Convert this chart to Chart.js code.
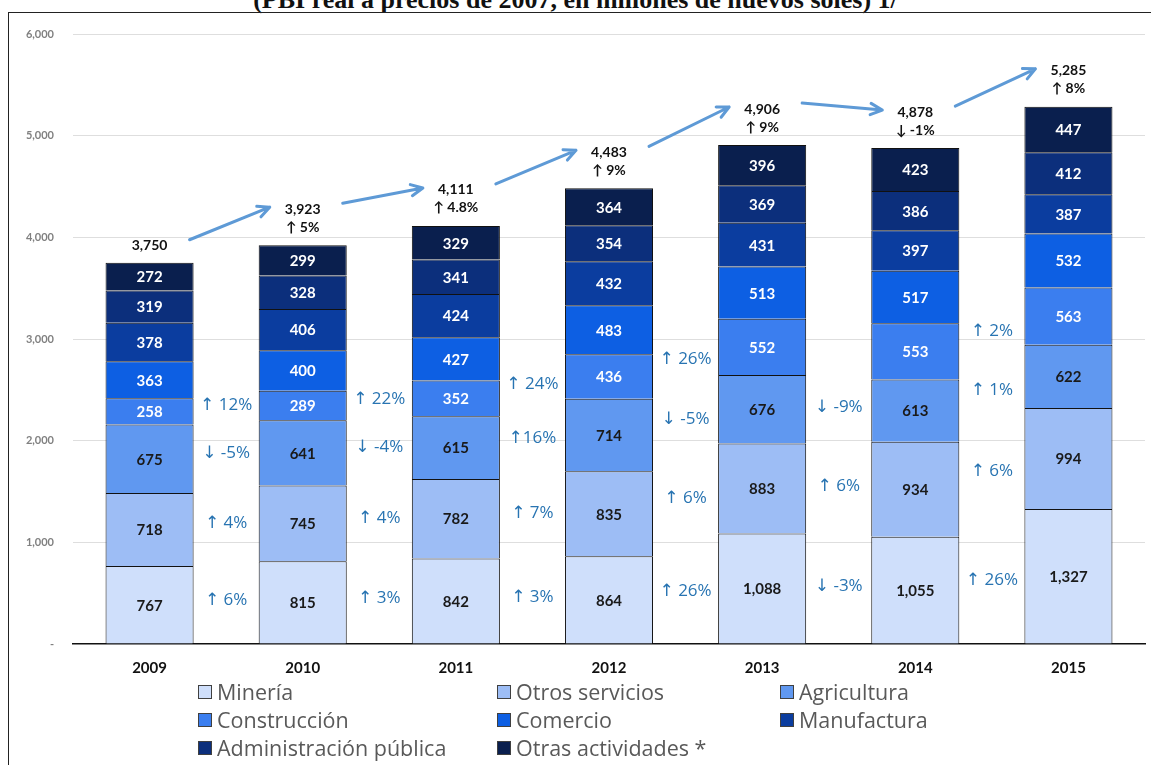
<!DOCTYPE html>
<html lang="es">
<head>
  <meta charset="UTF-8">
  <title>PBI por sectores 2009-2015</title>
  <style>
    body { margin: 0; padding: 0; background: #fff; width: 1151px; height: 765px; overflow: hidden; position: relative; font-family: Lato, "Open Sans", sans-serif; }
    .frame { position: absolute; left: 8px; top: 12px; right: -4px; bottom: -4px; border-left: 1.5px solid #222; border-top: 1.5px solid #222; }
    .title { position: absolute; left: 0; top: -13px; width: 1151px; text-align: center; font: bold 26px/26px "Liberation Serif", "Times New Roman", serif; color: #111; white-space: nowrap; }
    #chartCanvas { position: absolute; left: 0; top: 0; }
    .legend { position: absolute; top: 678px; left: 198px; }
    .legend .item { position: absolute; height: 28px; line-height: 28px; font-family: "Open Sans", sans-serif; font-size: 21.5px; color: #595959; white-space: nowrap; display: flex; align-items: center; }
    .legend .box { width: 14px; height: 14px; border: 1px solid #404040; margin-right: 5px; box-sizing: border-box; }
  </style>
  <script src="https://cdn.jsdelivr.net/npm/chart.js"></script>
</head>
<body>
  <div class="title">(PBI real a precios de 2007, en millones de nuevos soles) 1/</div>
  <div class="frame"></div>
  <canvas id="chartCanvas" width="1151" height="765"></canvas>
  <div class="legend" id="legend"></div>

  <script>
    // years on the x axis
    const years = ['2009', '2010', '2011', '2012', '2013', '2014', '2015'];

    // sector values, stacked bottom to top
    const mineria          = [767, 815, 842, 864, 1088, 1055, 1327];
    const otrosServicios   = [718, 745, 782, 835, 883, 934, 994];
    const agricultura      = [675, 641, 615, 714, 676, 613, 622];
    const construccion     = [258, 289, 352, 436, 552, 553, 563];
    const comercio         = [363, 400, 427, 483, 513, 517, 532];
    const manufactura      = [378, 406, 424, 432, 431, 397, 387];
    const adminPublica     = [319, 328, 341, 354, 369, 386, 412];
    const otrasActividades = [272, 299, 329, 364, 396, 423, 447];

    // totals and yearly change shown above each bar
    const totals      = [3750, 3923, 4111, 4483, 4906, 4878, 5285];
    const totalChange = ['', '↑ 5%', '↑ 4.8%', '↑ 9%', '↑ 9%', '↓ -1%', '↑ 8%'];

    // year-over-year growth for the lower four sectors (between bars)
    const growthMineria      = ['↑ 6%', '↑ 3%', '↑ 3%', '↑ 26%', '↓ -3%', '↑ 26%'];
    const growthOtros        = ['↑ 4%', '↑ 4%', '↑ 7%', '↑ 6%', '↑ 6%', '↑ 6%'];
    const growthAgricultura  = ['↓ -5%', '↓ -4%', '↑16%', '↓ -5%', '↓ -9%', '↑ 1%'];
    const growthConstruccion = ['↑ 12%', '↑ 22%', '↑ 24%', '↑ 26%', null, '↑ 2%'];

    const yTicks = [0, 1000, 2000, 3000, 4000, 5000, 6000];

    const sectors = [
      { label: 'Minería', data: mineria, color: '#cfdffb', growth: growthMineria },
      { label: 'Otros servicios', data: otrosServicios, color: '#9dbdf5', growth: growthOtros },
      { label: 'Agricultura', data: agricultura, color: '#6098f0', growth: growthAgricultura },
      { label: 'Construcción', data: construccion, color: '#3b7eef', growth: growthConstruccion },
      { label: 'Comercio', data: comercio, color: '#0d5fe3', growth: null },
      { label: 'Manufactura', data: manufactura, color: '#0b3d9f', growth: null },
      { label: 'Administración pública', data: adminPublica, color: '#0c2f7c', growth: null },
      { label: 'Otras actividades *', data: otrasActividades, color: '#0a1f4e', growth: null }
    ];

    const fmt = v => v.toLocaleString('en-US');

    // numbers inside segments, growth rates between bars, totals + arrows on top
    const labelsPlugin = {
      id: 'labels',
      afterDatasetsDraw(chart) {
        const ctx = chart.ctx;
        ctx.save();
        ctx.textAlign = 'center';
        ctx.textBaseline = 'middle';

        // segment values
        ctx.font = 'bold 15px Lato, sans-serif';
        chart.data.datasets.forEach((ds, di) => {
          const meta = chart.getDatasetMeta(di);
          meta.data.forEach((bar, i) => {
            ctx.fillStyle = di < 3 ? '#1a1a1a' : '#ffffff';
            ctx.fillText(fmt(ds.data[i]), bar.x, (bar.y + bar.base) / 2 + 1);
          });
        });

        // growth between consecutive bars
        ctx.font = '17px "Open Sans", "DejaVu Sans", sans-serif';
        ctx.fillStyle = '#2874b2';
        sectors.forEach((s, di) => {
          if (!s.growth) return;
          const bars = chart.getDatasetMeta(di).data;
          s.growth.forEach((txt, i) => {
            if (!txt) return;
            const a = bars[i], b = bars[i + 1];
            const x = (a.x + b.x) / 2;
            const y = ((a.y + a.base) / 2 + (b.y + b.base) / 2) / 2 - 3;
            ctx.fillText(txt, x, y);
          });
        });

        // totals above bars
        const pos = [];
        ctx.font = 'bold 14px Lato, "DejaVu Sans", sans-serif';
        ctx.fillStyle = '#111';
        const tops = chart.getDatasetMeta(sectors.length - 1).data;
        totals.forEach((t, i) => {
          const x = tops[i].x;
          const top = tops[i].y;
          const change = totalChange[i];
          let ny;
          if (change) {
            ny = top - 36;
            ctx.fillText(change, x, top - 18);
          } else {
            ny = top - 17;
          }
          ctx.fillText(fmt(t), x, ny);
          pos.push({ x, y: ny });
        });

        // arrows linking the totals
        ctx.strokeStyle = '#5e9ad6';
        ctx.lineWidth = 3;
        ctx.lineCap = 'round';
        ctx.lineJoin = 'round';
        for (let i = 0; i < pos.length - 1; i++) {
          const x1 = pos[i].x + 40, y1 = pos[i].y - 6;
          const x2 = pos[i + 1].x - 33, y2 = pos[i + 1].y - 2;
          const ang = Math.atan2(y2 - y1, x2 - x1);
          ctx.beginPath();
          ctx.moveTo(x1, y1);
          ctx.lineTo(x2, y2);
          ctx.moveTo(x2 - 13 * Math.cos(ang - 0.45), y2 - 13 * Math.sin(ang - 0.45));
          ctx.lineTo(x2, y2);
          ctx.lineTo(x2 - 13 * Math.cos(ang + 0.45), y2 - 13 * Math.sin(ang + 0.45));
          ctx.stroke();
        }
        ctx.restore();
      }
    };

    const ctx = document.getElementById('chartCanvas').getContext('2d');
    new Chart(ctx, {
      type: 'bar',
      data: {
        labels: years,
        datasets: sectors.map(s => ({
          label: s.label,
          data: s.data,
          backgroundColor: s.color,
          borderColor: '#111',
          borderWidth: 1,
          categoryPercentage: 1,
          barPercentage: 0.575
        }))
      },
      options: {
        responsive: false,
        animation: false,
        devicePixelRatio: 1,
        layout: { padding: { top: 34, right: 6, bottom: 81, left: 0 } },
        plugins: { legend: { display: false }, tooltip: { enabled: false } },
        scales: {
          x: {
            stacked: true,
            grid: { display: false, drawTicks: false },
            border: { color: '#111', width: 1.5 },
            ticks: { color: '#111', padding: 15, font: { family: 'Lato', size: 15, weight: 'bold' } },
            afterFit(scale) { scale.height = 40; }
          },
          y: {
            stacked: true,
            min: 0,
            max: 6000,
            afterBuildTicks(scale) { scale.ticks = yTicks.map(v => ({ value: v })); },
            grid: { color: ctx => ctx.tick.value === 0 ? 'rgba(0,0,0,0)' : '#dedede', drawTicks: false },
            border: { display: false },
            ticks: {
              color: '#808080',
              padding: 19,
              font: { family: 'Lato', size: 11, weight: 'bold' },
              callback: v => v === 0 ? '-' : fmt(v)
            },
            afterFit(scale) { scale.width = 73; }
          }
        }
      },
      plugins: [labelsPlugin]
    });

    // legend in three columns
    const legend = document.getElementById('legend');
    const colX = [0, 299, 582];
    sectors.forEach((s, i) => {
      const item = document.createElement('div');
      item.className = 'item';
      item.style.left = colX[i % 3] + 'px';
      item.style.top = Math.floor(i / 3) * 28 + 'px';
      item.innerHTML = '<span class="box" style="background:' + s.color + '"></span>' + s.label;
      legend.appendChild(item);
    });
  </script>
</body>
</html>
